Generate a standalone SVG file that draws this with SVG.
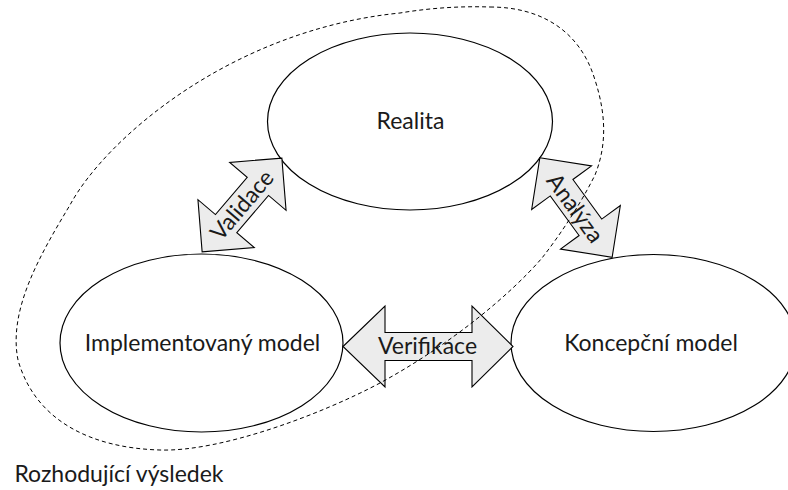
<svg xmlns="http://www.w3.org/2000/svg" width="788" height="490" viewBox="0 0 788 490">
  <style>
    .node { fill: #ffffff; stroke: #000000; stroke-width: 1.2; }
    .arrow { fill: #ececec; stroke: #000000; stroke-width: 1.1; stroke-linejoin: miter; }
    .lbl { font-family: Lato, "Liberation Sans", sans-serif; font-size: 23px; fill: #1a1a1a; text-anchor: middle; }
    .bound { fill: none; stroke: #000000; stroke-width: 1; stroke-dasharray: 4 3; }
  </style>
  <defs>
    <polygon id="dblArrow" points="-61.5,0 -24.5,-37 -24.5,-14 24.5,-14 24.5,-37 61.5,0 24.5,37 24.5,14 -24.5,14 -24.5,37"/>
  </defs>
  <rect x="0" y="0" width="788" height="490" fill="#ffffff"/>

  <g id="realita">
    <ellipse class="node" cx="410" cy="121.5" rx="142.5" ry="88.5"/>
    <text class="lbl" x="410.5" y="129">Realita</text>
  </g>
  <g id="implementovany-model">
    <ellipse class="node" cx="201.5" cy="343" rx="141.5" ry="89"/>
    <text class="lbl" x="202.5" y="351">Implementovaný model</text>
  </g>
  <g id="koncepcni-model">
    <ellipse class="node" cx="653.5" cy="343" rx="142.5" ry="88.5"/>
    <text class="lbl" x="651" y="351">Koncepční model</text>
  </g>

  <g id="connectors">
    <g id="validace" transform="translate(242,205) rotate(-49.6)">
      <use href="#dblArrow" class="arrow"/>
      <text class="lbl" x="0" y="8">Validace</text>
    </g>
    <g id="analyza" transform="translate(576,207.5) rotate(54)">
      <use href="#dblArrow" class="arrow"/>
      <text class="lbl" x="0" y="9">Analýza</text>
    </g>
    <g id="verifikace">
      <polygon class="arrow" points="343,346.5 385,306 385,332.5 472,332.5 472,306 513,346.5 472,387 472,360.5 385,360.5 385,387"/>
      <text class="lbl" x="427.5" y="354">Verifikace</text>
    </g>
  </g>

  <g id="rozhodujici-vysledek">
    <path class="bound" d="M 490,7 C 540,7 580,30 595,80 C 608,120 605,150 595,175 C 580,205 560,235 542,258 C 510,295 450,345 380,383 C 320,415 220,452 160,450 C 90,448 35,420 18,360 C 8,310 40,255 70,205 C 105,140 230,30 400,13 C 430,8 460,6 490,7 Z"/>
    <text class="lbl" x="119" y="482">Rozhodující výsledek</text>
  </g>
</svg>
